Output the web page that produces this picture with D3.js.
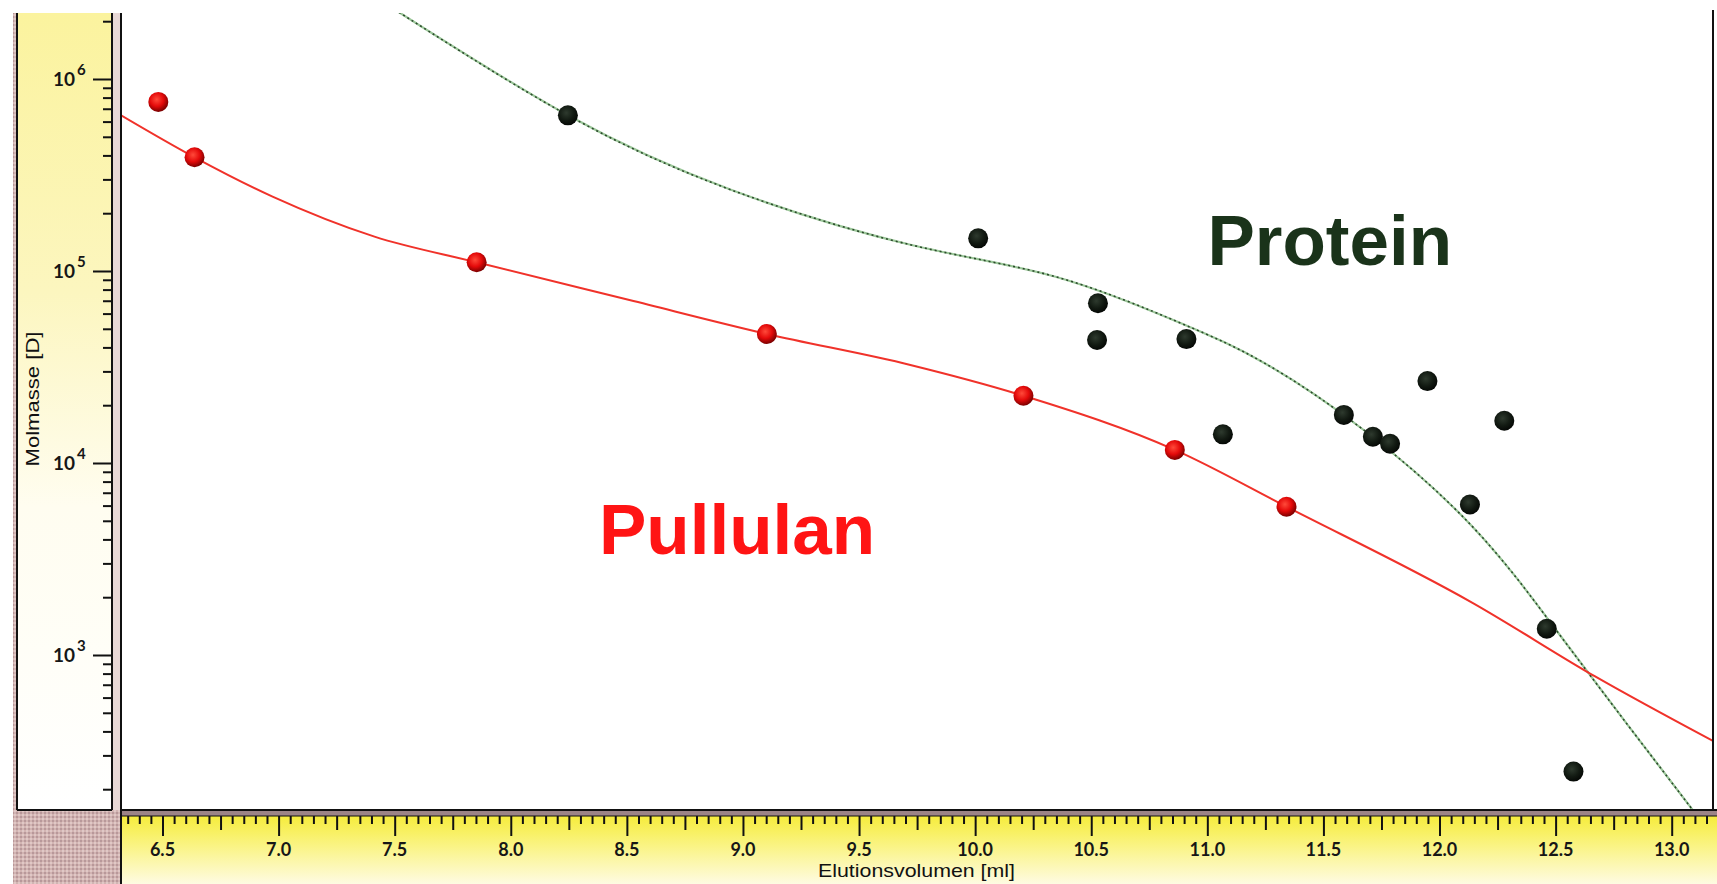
<!DOCTYPE html>
<html><head><meta charset="utf-8">
<script src="https://cdn.jsdelivr.net/npm/d3@7"></script>
<style>html,body{margin:0;padding:0;background:#fff;}svg{display:block;}</style>
</head><body>
<svg id="chart" width="1717" height="884"></svg>
<script>
// ---- Data ----
const pullulanX = [6.482, 6.638, 7.853, 9.103, 10.208, 10.860, 11.341];
const pullulanM = [7.6e5, 3.91e5, 1.11e5, 4.70e4, 2.24e4, 1.17e4, 5.92e3];

const proteinX = [8.246, 10.013, 10.529, 10.525, 10.910, 11.067, 11.588, 11.713, 11.787, 11.948, 12.279, 12.131, 12.462, 12.577];
const proteinM = [6.47e5, 1.48e5, 6.79e4, 4.37e4, 4.42e4, 1.41e4, 1.78e4, 1.37e4, 1.26e4, 2.67e4, 1.66e4, 6.08e3, 1.37e3, 247];

const pullulanFitX = [6.30, 6.638, 6.974, 7.413, 7.853, 8.511, 9.103, 9.721, 10.208, 10.860, 11.341, 12.142, 12.672, 13.20];
const pullulanFitM = [6.7e5, 3.91e5, 2.44e5, 1.51e5, 1.11e5, 7.06e4, 4.70e4, 3.24e4, 2.24e4, 1.17e4, 5.92e3, 1.87e3, 771, 345];

const proteinFitX = [7.50, 8.246, 8.951, 9.721, 10.346, 10.884, 11.245, 11.672, 12.142, 12.502, 12.816, 13.12];
const proteinFitM = [2.3e6, 6.47e5, 2.64e5, 1.37e5, 9.34e4, 5.36e4, 3.32e4, 1.49e4, 4.66e3, 1.35e3, 424, 140];

const xTickLabels = ["6.5","7.0","7.5","8.0","8.5","9.0","9.5","10.0","10.5","11.0","11.5","12.0","12.5","13.0"];
const xTickValues = [6.5,7.0,7.5,8.0,8.5,9.0,9.5,10.0,10.5,11.0,11.5,12.0,12.5,13.0];
const yMajorTicks = [1e3, 1e4, 1e5, 1e6];
const yExponents = ["3","4","5","6"];

const xTitle = "Elutionsvolumen [ml]";
const yTitle = "Molmasse [D]";
const labelProtein = "Protein";
const labelPullulan = "Pullulan";

// ---- Layout ----
const svg = d3.select("#chart");
const plotL = 121, plotR = 1713, plotT = 13, plotB = 810;
const x = d3.scaleLinear().domain([6.5, 13.0]).range([162.5, 1671.7]);
const y = d3.scaleLog().domain([1e3, 1e6]).range([655, 79]);

const defs = svg.append("defs");
const gL = defs.append("linearGradient").attr("id","gLeft").attr("x1",0).attr("y1",0).attr("x2",0).attr("y2",1);
gL.append("stop").attr("offset","0%").attr("stop-color","#fbf39e");
gL.append("stop").attr("offset","35%").attr("stop-color","#fcf6bf");
gL.append("stop").attr("offset","62%").attr("stop-color","#fffdf0");
gL.append("stop").attr("offset","100%").attr("stop-color","#ffffff");
const gB = defs.append("linearGradient").attr("id","gBottom").attr("x1",0).attr("y1",0).attr("x2",0).attr("y2",1);
gB.append("stop").attr("offset","0%").attr("stop-color","#f6ec3c");
gB.append("stop").attr("offset","45%").attr("stop-color","#faf486");
gB.append("stop").attr("offset","100%").attr("stop-color","#fefbe2");
const pat = defs.append("pattern").attr("id","hatch").attr("width",4).attr("height",4).attr("patternUnits","userSpaceOnUse");
pat.append("rect").attr("width",4).attr("height",4).attr("fill","#d2b4b2");
pat.append("rect").attr("width",2).attr("height",2).attr("fill","#b8989a");
pat.append("rect").attr("x",2).attr("y",2).attr("width",2).attr("height",2).attr("fill","#e0c8c6");
const gRed = defs.append("radialGradient").attr("id","dotRed").attr("cx","42%").attr("cy","38%").attr("r","62%");
gRed.append("stop").attr("offset","0%").attr("stop-color","#ff4a3a");
gRed.append("stop").attr("offset","55%").attr("stop-color","#e40a0a");
gRed.append("stop").attr("offset","100%").attr("stop-color","#7a0000");
const gBlk = defs.append("radialGradient").attr("id","dotBlk").attr("cx","42%").attr("cy","38%").attr("r","62%");
gBlk.append("stop").attr("offset","0%").attr("stop-color","#2e3a2e");
gBlk.append("stop").attr("offset","60%").attr("stop-color","#121a12");
gBlk.append("stop").attr("offset","100%").attr("stop-color","#050805");
defs.append("clipPath").attr("id","plotClip").append("rect")
  .attr("x",plotL+1).attr("y",plotT).attr("width",plotR-plotL-2).attr("height",plotB-plotT-1);

// backgrounds
svg.append("rect").attr("x",17).attr("y",plotT).attr("width",112-17).attr("height",plotB-plotT).attr("fill","url(#gLeft)");
svg.append("rect").attr("x",plotL).attr("y",816).attr("width",1717-plotL).attr("height",884-816).attr("fill","url(#gBottom)");
svg.append("rect").attr("x",13).attr("y",plotB).attr("width",plotL-13).attr("height",884-plotB).attr("fill","url(#hatch)");
svg.append("rect").attr("x",13).attr("y",plotT).attr("width",3).attr("height",plotB-plotT).attr("fill","url(#hatch)");
svg.append("rect").attr("x",113).attr("y",plotT).attr("width",7).attr("height",plotB-plotT).attr("fill","#e8d8d6");
svg.append("rect").attr("x",plotL).attr("y",plotB+1).attr("width",1717-plotL).attr("height",5).attr("fill","#9c8486");

// frame lines
const frame = svg.append("g").attr("stroke","#111").attr("stroke-width",2);
frame.append("line").attr("x1",17).attr("x2",17).attr("y1",plotT).attr("y2",plotB);
frame.append("line").attr("x1",112).attr("x2",112).attr("y1",plotT).attr("y2",plotB);
frame.append("line").attr("x1",plotL).attr("x2",plotL).attr("y1",plotT).attr("y2",884);
frame.append("line").attr("x1",plotR).attr("x2",plotR).attr("y1",10).attr("y2",plotB);
frame.append("line").attr("x1",17).attr("x2",112).attr("y1",plotB).attr("y2",plotB);
frame.append("line").attr("x1",plotL).attr("x2",1717).attr("y1",plotB).attr("y2",plotB);
frame.append("line").attr("x1",plotL).attr("x2",1717).attr("y1",816).attr("y2",816).attr("stroke-width",1.2);

// ---- Y axis ----
const yMinor = y.copy().domain([156, 2.21e6]).ticks().filter(v => !yMajorTicks.includes(v));
const yMinorAxis = d3.axisLeft(y).tickValues(yMinor).tickSize(9).tickFormat("");
const gyMin = svg.append("g").attr("transform","translate(112,0)").call(yMinorAxis);
const yMajorAxis = d3.axisLeft(y).tickValues(yMajorTicks).tickSize(19).tickFormat("");
const gyMaj = svg.append("g").attr("transform","translate(112,0)").call(yMajorAxis);
[gyMin, gyMaj].forEach(g => { g.select(".domain").remove(); g.selectAll("line").attr("stroke","#111").attr("stroke-width",2); });
const yl = svg.append("g").attr("font-family","Lato, 'DejaVu Sans', sans-serif").attr("font-weight","bold").attr("fill","#161616");
yMajorTicks.forEach((v,i) => {
  yl.append("text").attr("x",75).attr("y",y(v)+7).attr("text-anchor","end").attr("font-size",19).text("10");
  yl.append("text").attr("x",77).attr("y",y(v)-4).attr("font-size",15).text(yExponents[i]);
});
svg.append("text").attr("transform","translate(38.5,399) rotate(-90)").attr("text-anchor","middle")
  .attr("font-family","'Liberation Sans', Arial, sans-serif").attr("font-size",18).attr("fill","#111")
  .attr("textLength",135).attr("lengthAdjust","spacingAndGlyphs").text(yTitle);

// ---- X axis ----
const xMinor = d3.range(6.35, 13.16, 0.05).map(v => Math.round(v*100)/100);
const xSmall = xMinor.filter(v => Math.abs(v*4 - Math.round(v*4)) > 1e-6);
const xMid = xMinor.filter(v => Math.abs(v*4 - Math.round(v*4)) < 1e-6 && Math.abs(v*2 - Math.round(v*2)) > 1e-6);
const addXTicks = (vals, len) => {
  const g = svg.append("g").attr("transform","translate(0,816)").call(d3.axisBottom(x).tickValues(vals).tickSize(len).tickFormat(""));
  g.select(".domain").remove();
  g.selectAll("line").attr("stroke","#111").attr("stroke-width",2);
};
addXTicks(xSmall, 8);
addXTicks(xMid, 14);
addXTicks(xTickValues, 20);
const xl = svg.append("g").attr("font-family","Lato, 'DejaVu Sans', sans-serif").attr("font-weight","bold")
  .attr("font-size",18).attr("fill","#161616").attr("text-anchor","middle");
xTickValues.forEach((v,i) => xl.append("text").attr("x",x(v)).attr("y",856).text(xTickLabels[i]));
svg.append("text").attr("x",818).attr("y",877).attr("font-family","'Liberation Sans', Arial, sans-serif")
  .attr("font-size",19).attr("fill","#111").attr("textLength",197).attr("lengthAdjust","spacingAndGlyphs").text(xTitle);

// ---- Fit curves ----
const plot = svg.append("g").attr("clip-path","url(#plotClip)");
const lineG = d3.line().x(d => x(d[0])).y(d => y(d[1])).curve(d3.curveNatural);
const lineR = d3.line().x(d => x(d[0])).y(d => y(d[1])).curve(d3.curveMonotoneX);
const pFit = pullulanFitX.map((v,i) => [v, pullulanFitM[i]]);
const prFit = proteinFitX.map((v,i) => [v, proteinFitM[i]]);
plot.append("path").datum(prFit).attr("d",lineG).attr("fill","none").attr("stroke","#9cc89a").attr("stroke-width",2.2);
plot.append("path").datum(prFit).attr("d",lineG).attr("fill","none").attr("stroke","#2c4a2c").attr("stroke-width",1.6).attr("stroke-dasharray","2 3");
plot.append("path").datum(pFit).attr("d",lineR).attr("fill","none").attr("stroke","#f0322a").attr("stroke-width",2);

// ---- Points ----
const pPts = pullulanX.map((v,i) => [v, pullulanM[i]]);
const prPts = proteinX.map((v,i) => [v, proteinM[i]]);
plot.selectAll("circle.pr").data(prPts).join("circle").attr("class","pr")
  .attr("cx",d => x(d[0])).attr("cy",d => y(d[1])).attr("r",10).attr("fill","url(#dotBlk)");
plot.selectAll("circle.pu").data(pPts).join("circle").attr("class","pu")
  .attr("cx",d => x(d[0])).attr("cy",d => y(d[1])).attr("r",10).attr("fill","url(#dotRed)");

// ---- Labels ----
svg.append("text").attr("x",1207.5).attr("y",265).attr("font-family","'Liberation Sans', Arial, sans-serif")
  .attr("font-weight","bold").attr("font-size",71).attr("fill","#1a331a").text(labelProtein);
svg.append("text").attr("x",599).attr("y",554).attr("font-family","'Liberation Sans', Arial, sans-serif")
  .attr("font-weight","bold").attr("font-size",71).attr("fill","#ff1414").text(labelPullulan);
</script>
</body></html>
